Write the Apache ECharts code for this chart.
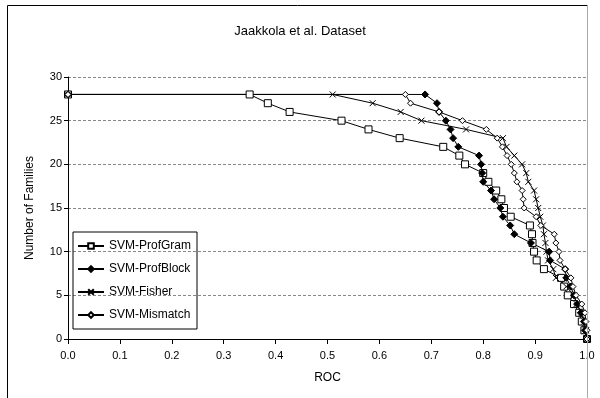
<!DOCTYPE html>
<html>
<head>
<meta charset="utf-8">
<script src="https://cdn.jsdelivr.net/npm/echarts@6/dist/echarts.min.js"></script>
<style>
	html,body{margin:0;padding:0;background:#fff;}
	#chart{width:600px;height:398px;}
</style>
</head>
<body>
<div id="chart"></div>
<script>
// 数据：每条曲线的ROC值，对应家族数 28..0
var families = [28,27,26,25,24,23,22,21,20,19,18,17,16,15,14,13,12,11,10,9,8,7,6,5,4,3,2,1,0];
var profGram = [0.35,0.385,0.427,0.527,0.579,0.639,0.723,0.754,0.765,0.80,0.81,0.825,0.835,0.84,0.853,0.89,0.894,0.895,0.898,0.903,0.917,0.95,0.956,0.963,0.975,0.985,0.99,0.995,1.0];
var profBlock = [0.688,0.711,0.715,0.728,0.737,0.742,0.752,0.792,0.796,0.798,0.80,0.815,0.821,0.833,0.838,0.852,0.86,0.892,0.927,0.929,0.958,0.96,0.969,0.975,0.981,0.988,0.994,0.996,1.0];
var fisher = [0.51,0.587,0.641,0.681,0.767,0.838,0.845,0.86,0.875,0.883,0.887,0.898,0.902,0.906,0.91,0.915,0.917,0.92,0.922,0.925,0.935,0.94,0.96,0.975,0.98,0.99,0.995,0.998,1.0];
var mismatch = [0.65,0.66,0.715,0.76,0.806,0.827,0.837,0.846,0.854,0.86,0.865,0.875,0.877,0.879,0.902,0.911,0.937,0.94,0.946,0.948,0.958,0.969,0.973,0.979,0.99,0.996,0.998,1.0,1.0];
var startPoint = [0,28];
var xTicks = ['0.0','0.1','0.2','0.3','0.4','0.5','0.6','0.7','0.8','0.9','1.0'];

function pairs(arr){
	var out = [startPoint];
	for(var i=0;i<arr.length;i++){
		out.push([arr[i],families[i]]);
	}
	return out;
}

var font = 'Liberation Sans, Arial, sans-serif';
var myChart = echarts.init(document.getElementById('chart'));

function lineSeries(name,data,symbol,size,fill){
	return {
		name:name,
		type:'line',
		data:pairs(data),
		symbol:symbol,
		symbolSize:size,
		showAllSymbol:true,
		animation:false,
		lineStyle:{color:'#000',width:1},
		itemStyle:{color:fill,borderColor:'#000',borderWidth:1},
		emphasis:{disabled:true}
	};
}

var option = {
	backgroundColor:'#fff',
	animation:false,
	title:{
		text:'Jaakkola et al. Dataset',
		left:'center',
		top:20,
		textStyle:{fontFamily:font,fontSize:13,fontWeight:'normal',color:'#000'}
	},
	legend:{
		orient:'vertical',
		left:73,
		top:232,
		itemWidth:26,
		itemHeight:7,
		itemGap:11,
		padding:[8,6,8,4],
		borderColor:'#000',
		borderWidth:1,
		textStyle:{fontFamily:font,fontSize:12,color:'#000'},
		data:['SVM-ProfGram','SVM-ProfBlock','SVM-Fisher','SVM-Mismatch']
	},
	grid:{left:68,right:13,top:77,bottom:59},
	xAxis:{
		type:'value',
		min:0,max:1,interval:0.1,
		name:'ROC',
		nameLocation:'middle',
		nameGap:33,
		nameTextStyle:{fontFamily:font,fontSize:12,color:'#000'},
		axisLine:{lineStyle:{color:'#000'}},
		axisTick:{length:5,lineStyle:{color:'#000'}},
		axisLabel:{fontFamily:font,fontSize:11,color:'#000',margin:11,
			formatter:function(v){return xTicks[Math.round(v*10)];}},
		splitLine:{show:false}
	},
	yAxis:{
		type:'value',
		min:0,max:30,interval:5,
		name:'Number of Families',
		nameLocation:'middle',
		nameGap:32,
		nameTextStyle:{fontFamily:font,fontSize:12,color:'#000'},
		axisLine:{show:true,lineStyle:{color:'#000'}},
		axisTick:{show:true,length:4,lineStyle:{color:'#000'}},
		axisLabel:{fontFamily:font,fontSize:11,color:'#000',margin:6},
		splitLine:{show:true,lineStyle:{color:'#888',type:[3,2],width:1}}
	},
	graphic:[
		{type:'polyline',shape:{points:[[7.5,398],[7.5,5.5],[587.5,5.5]]},style:{stroke:'#000',fill:null,lineWidth:1},z:100},
		{type:'line',shape:{x1:587.5,y1:5.5,x2:587.5,y2:398},style:{stroke:'#aaa',lineWidth:1},z:100}
	],
	series:[
		lineSeries('SVM-ProfGram',profGram,'rect',7,'#fff'),
		lineSeries('SVM-ProfBlock',profBlock,'diamond',7,'#000'),
		lineSeries('SVM-Fisher',fisher,'path://M0,0L10,10M10,0L0,10',6,'none'),
		lineSeries('SVM-Mismatch',mismatch,'diamond',6,'#fff')
	]
};
myChart.setOption(option);
</script>
</body>
</html>
